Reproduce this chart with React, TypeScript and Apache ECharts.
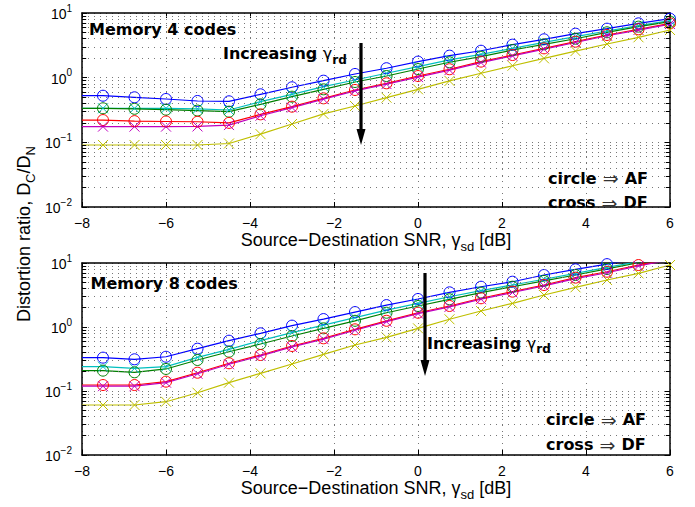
import React, { useEffect, useRef } from 'react';
import * as echarts from 'echarts';

// Source-Destination SNR [dB]; first point (-8) carries no marker
const SNR_DB = [-8, -7.5, -6.75, -6, -5.25, -4.5, -3.75, -3, -2.25, -1.5, -0.75, 0, 0.75, 1.5, 2.25, 3, 3.75, 4.5, 5.25, 6];
const X_TICKS = [-8, -6, -4, -2, 0, 2, 4, 6];

// Memory 4 codes
const M4_BLUE = [0.526, 0.526, 0.497, 0.468, 0.436, 0.431, 0.553, 0.71, 0.898, 1.14, 1.4, 1.77, 2.19, 2.61, 3.24, 3.92, 4.79, 5.72, 6.92, 8.17];
const M4_CYAN = [0.336, 0.336, 0.336, 0.336, 0.33, 0.316, 0.425, 0.553, 0.725, 0.92, 1.17, 1.48, 1.88, 2.29, 2.84, 3.52, 4.31, 5.27, 6.36, 7.6];
const M4_GREEN = [0.336, 0.336, 0.33, 0.32, 0.31, 0.298, 0.387, 0.508, 0.66, 0.857, 1.06, 1.36, 1.73, 2.11, 2.68, 3.28, 4.0, 5.03, 6.15, 7.35];
const M4_RED = [0.221, 0.221, 0.213, 0.21, 0.208, 0.2, 0.271, 0.356, 0.479, 0.645, 0.818, 1.06, 1.35, 1.77, 2.24, 2.84, 3.6, 4.57, 5.6, 6.9];
const M4_MAGENTA = [0.175, 0.175, 0.175, 0.175, 0.176, 0.185, 0.258, 0.345, 0.465, 0.625, 0.795, 1.02, 1.31, 1.71, 2.17, 2.76, 3.5, 4.45, 5.45, 6.75];
const M4_YELLOW = [0.091, 0.091, 0.091, 0.091, 0.091, 0.096, 0.134, 0.192, 0.275, 0.365, 0.49, 0.66, 0.89, 1.17, 1.53, 1.99, 2.58, 3.32, 4.21, 5.46];

// Memory 8 codes
const M8_BLUE = [0.332, 0.332, 0.313, 0.343, 0.458, 0.611, 0.797, 1.05, 1.33, 1.71, 2.2, 2.74, 3.48, 4.26, 5.1, 6.49, 7.97, 9.6, 11.8, 14.2];
const M8_CYAN = [0.24, 0.24, 0.226, 0.24, 0.336, 0.448, 0.611, 0.815, 1.07, 1.4, 1.84, 2.34, 2.97, 3.69, 4.53, 5.57, 6.88, 8.55, 10.5, 12.8];
const M8_GREEN = [0.208, 0.208, 0.196, 0.221, 0.305, 0.411, 0.543, 0.723, 0.953, 1.25, 1.67, 2.13, 2.71, 3.44, 4.26, 5.24, 6.49, 8.07, 10.1, 12.4];
const M8_RED = [0.124, 0.124, 0.124, 0.14, 0.193, 0.271, 0.365, 0.505, 0.666, 0.92, 1.25, 1.67, 2.13, 2.81, 3.57, 4.53, 5.9, 7.3, 9.3, 11.6];
const M8_MAGENTA = [0.119, 0.119, 0.119, 0.135, 0.186, 0.262, 0.353, 0.488, 0.645, 0.89, 1.21, 1.62, 2.06, 2.72, 3.46, 4.39, 5.7, 7.05, 9.0, 11.2];
const M8_YELLOW = [0.0604, 0.0604, 0.0604, 0.068, 0.094, 0.135, 0.189, 0.264, 0.374, 0.523, 0.69, 0.953, 1.32, 1.78, 2.34, 3.16, 4.17, 5.42, 6.88, 9.3];

const SERIES_COLORS = ['#0000ff', '#00bfbf', '#008000', '#ff0000', '#bf00bf', '#bfbf00'];
const SERIES_MARKERS = ['circle', 'cross', 'circle', 'circle', 'cross', 'cross'];
const MINOR_LOG = [0.02, 0.03, 0.04, 0.05, 0.06, 0.07, 0.08, 0.09, 0.2, 0.3, 0.4, 0.5, 0.6, 0.7, 0.8, 0.9, 2, 3, 4, 5, 6, 7, 8, 9];

const SANS = '"Liberation Sans", Arial, Helvetica, sans-serif';
const BOLD = '"DejaVu Sans", "Liberation Sans", sans-serif';
const CROSS = 'path://M0,0L10,10M10,0L0,10';

function supLabel(v: number) {
  const e = Math.round(Math.log10(v));
  return `{b|10}{s|${e < 0 ? '\u2212' + -e : e}}`;
}

const yLabelRich = {
  b: { fontSize: 14, fontFamily: SANS, color: '#000', verticalAlign: 'bottom', lineHeight: 16 },
  s: { fontSize: 10, fontFamily: SANS, color: '#000', verticalAlign: 'bottom', lineHeight: 12, padding: [0, 0, 8, 0] },
};

const xNameRich = {
  a: { fontSize: 18, fontFamily: SANS, color: '#000', verticalAlign: 'top', lineHeight: 20 },
  s: { fontSize: 13, fontFamily: SANS, color: '#000', verticalAlign: 'top', lineHeight: 15, padding: [9, 0, 0, 0] },
};

function buildSeries(sets: number[][], xAxisIndex: number, yAxisIndex: number) {
  return sets.map((vals, i) => {
    const c = SERIES_COLORS[i];
    const isCross = SERIES_MARKERS[i] === 'cross';
    const s: any = {
      type: 'line',
      xAxisIndex,
      yAxisIndex,
      color: c,
      clip: true,
      symbol: isCross ? CROSS : 'circle',
      symbolSize: isCross ? 10 : 11,
      showAllSymbol: true,
      lineStyle: { color: c, width: 1.2 },
      itemStyle: { color: 'transparent', borderColor: c, borderWidth: 1 },
      emphasis: { disabled: true },
      data: vals.map((v, j) => (j === 0 ? { value: [SNR_DB[j], v], symbol: 'none' } : [SNR_DB[j], v])),
    };
    if (i === 0) {
      s.markLine = {
        silent: true,
        symbol: ['none', 'none'],
        label: { show: false },
        lineStyle: { type: [1, 5], color: '#777', width: 1 },
        data: MINOR_LOG.map((v) => ({ yAxis: v })),
      };
    }
    if (i === 1) {
      const d: any[] = [];
      MINOR_LOG.forEach((v) => {
        d.push([{ coord: [-8, v] }, { coord: [-7.9, v] }]);
        d.push([{ coord: [5.9, v] }, { coord: [6, v] }]);
      });
      s.markLine = {
        silent: true,
        symbol: ['none', 'none'],
        label: { show: false },
        lineStyle: { type: 'solid', color: '#000', width: 1 },
        data: d,
      };
    }
    return s;
  });
}

function xAxes(gridIndex: number) {
  const common = {
    gridIndex,
    type: 'value',
    min: -8,
    max: 6,
    interval: 2,
    axisLine: { show: true, onZero: false, lineStyle: { color: '#000', width: 1.5 } },
    axisTick: { show: true, inside: true, length: 5, lineStyle: { color: '#000' } },
  };
  return [
    {
      ...common,
      position: 'bottom',
      axisLabel: {
        show: true,
        margin: 9,
        fontSize: 14,
        fontFamily: SANS,
        color: '#000',
        formatter: (v: number) => (X_TICKS.includes(v) ? String(v).replace('-', '\u2212') : ''),
      },
      splitLine: { show: true, lineStyle: { type: [1, 5], color: '#777', width: 1 } },
      name: '{a|Source\u2212Destination SNR, \u03b3}{s|sd}{a| [dB]}',
      nameLocation: 'middle',
      nameGap: 24,
      nameTextStyle: { rich: xNameRich },
    },
    { ...common, position: 'top', axisLabel: { show: false }, splitLine: { show: false } },
  ];
}

function yAxes(gridIndex: number) {
  const common = {
    gridIndex,
    type: 'log',
    logBase: 10,
    min: 0.01,
    max: 10,
    axisLine: { show: true, onZero: false, lineStyle: { color: '#000', width: 1.5 } },
    axisTick: { show: true, inside: true, length: 5, lineStyle: { color: '#000' } },
  };
  return [
    {
      ...common,
      position: 'left',
      axisLabel: { show: true, margin: 10, formatter: supLabel, rich: yLabelRich },
      splitLine: { show: true, lineStyle: { type: [1, 5], color: '#777', width: 1 } },
    },
    { ...common, position: 'right', axisLabel: { show: false }, splitLine: { show: false } },
  ];
}

function subText(x: number, y: number, main: string, sub: string) {
  return {
    type: 'text',
    x,
    y,
    z: 100,
    style: {
      text: `{a|${main}}{g|\u03b3}{s|${sub}}`,
      align: 'left',
      verticalAlign: 'top',
      rich: {
        a: { fontSize: 16, fontFamily: BOLD, fontWeight: 'bold', fill: '#000', verticalAlign: 'top', lineHeight: 18 },
        g: { fontSize: 16, fontFamily: BOLD, fontWeight: 'normal', fill: '#000', verticalAlign: 'top', lineHeight: 18 },
        s: { fontSize: 12, fontFamily: BOLD, fontWeight: 'bold', fill: '#000', verticalAlign: 'top', lineHeight: 14, padding: [8, 0, 0, 0] },
      },
    },
  };
}

function boldText(x: number, y: number, t: string) {
  return {
    type: 'text',
    x,
    y,
    z: 100,
    style: { text: t, fontSize: 16, fontFamily: BOLD, fontWeight: 'bold', fill: '#000', align: 'left', verticalAlign: 'top' },
  };
}

function legendText(x: number, y: number, a: string, b: string) {
  return {
    type: 'text',
    x,
    y,
    z: 100,
    style: {
      text: `{a|${a}}{r| \u21d2 }{a|${b}}`,
      align: 'left',
      verticalAlign: 'top',
      rich: {
        a: { fontSize: 16, fontFamily: BOLD, fontWeight: 'bold', fill: '#000', verticalAlign: 'middle', lineHeight: 18 },
        r: { fontSize: 19, fontFamily: BOLD, fontWeight: 'normal', fill: '#333', verticalAlign: 'middle', lineHeight: 18 },
      },
    },
  };
}

function arrow(x: number, y0: number, y1: number) {
  return [
    { type: 'line', z: 100, shape: { x1: x, y1: y0, x2: x, y2: y1 - 14 }, style: { stroke: '#000', lineWidth: 3.2 } },
    {
      type: 'polygon',
      z: 100,
      shape: { points: [[x - 4.5, y1 - 16], [x + 4.5, y1 - 16], [x, y1]] },
      style: { fill: '#000' },
    },
  ];
}

export default function App() {
  const ref = useRef<HTMLDivElement>(null);
  useEffect(() => {
    if (!ref.current) return;
    const chart = echarts.init(ref.current, undefined, { renderer: 'svg' });
    const option: any = {
      animation: false,
      backgroundColor: '#fff',
      grid: [
        { left: 82, top: 13, width: 588, height: 194, show: false },
        { left: 82, top: 263, width: 588, height: 192, show: false },
      ],
      xAxis: [...xAxes(0), ...xAxes(1)],
      yAxis: [...yAxes(0), ...yAxes(1)],
      series: [
        ...buildSeries([M4_BLUE, M4_CYAN, M4_GREEN, M4_RED, M4_MAGENTA, M4_YELLOW], 0, 0),
        ...buildSeries([M8_BLUE, M8_CYAN, M8_GREEN, M8_RED, M8_MAGENTA, M8_YELLOW], 2, 2),
      ],
      graphic: [
        {
          type: 'text',
          x: 25,
          y: 234,
          rotation: Math.PI / 2,
          style: {
            text: '{a|Distortion ratio, D}{s|C}{a|/D}{s|N}',
            align: 'center',
            verticalAlign: 'middle',
            rich: {
              a: { fontSize: 18, fontFamily: SANS, fill: '#000', verticalAlign: 'top', lineHeight: 20 },
              s: { fontSize: 13, fontFamily: SANS, fill: '#000', verticalAlign: 'top', lineHeight: 15, padding: [9, 0, 0, 0] },
            },
          },
        },
        boldText(89, 21.5, 'Memory 4 codes'),
        subText(223, 45.5, 'Increasing ', 'rd'),
        ...arrow(361, 43, 145),
        legendText(548, 169, 'circle', 'AF'),
        legendText(548, 193.5, 'cross', 'DF'),
        boldText(90.5, 275.5, 'Memory 8 codes'),
        subText(427, 335, 'Increasing ', 'rd'),
        ...arrow(425, 273, 376),
        legendText(546, 410.5, 'circle', 'AF'),
        legendText(546, 435.5, 'cross', 'DF'),
      ],
    };
    chart.setOption(option);
    return () => chart.dispose();
  }, []);
  return (
    <div
      ref={ref}
      style={{ position: 'absolute', left: 0, top: 0, width: 695, height: 507, background: '#fff' }}
    />
  );
}
